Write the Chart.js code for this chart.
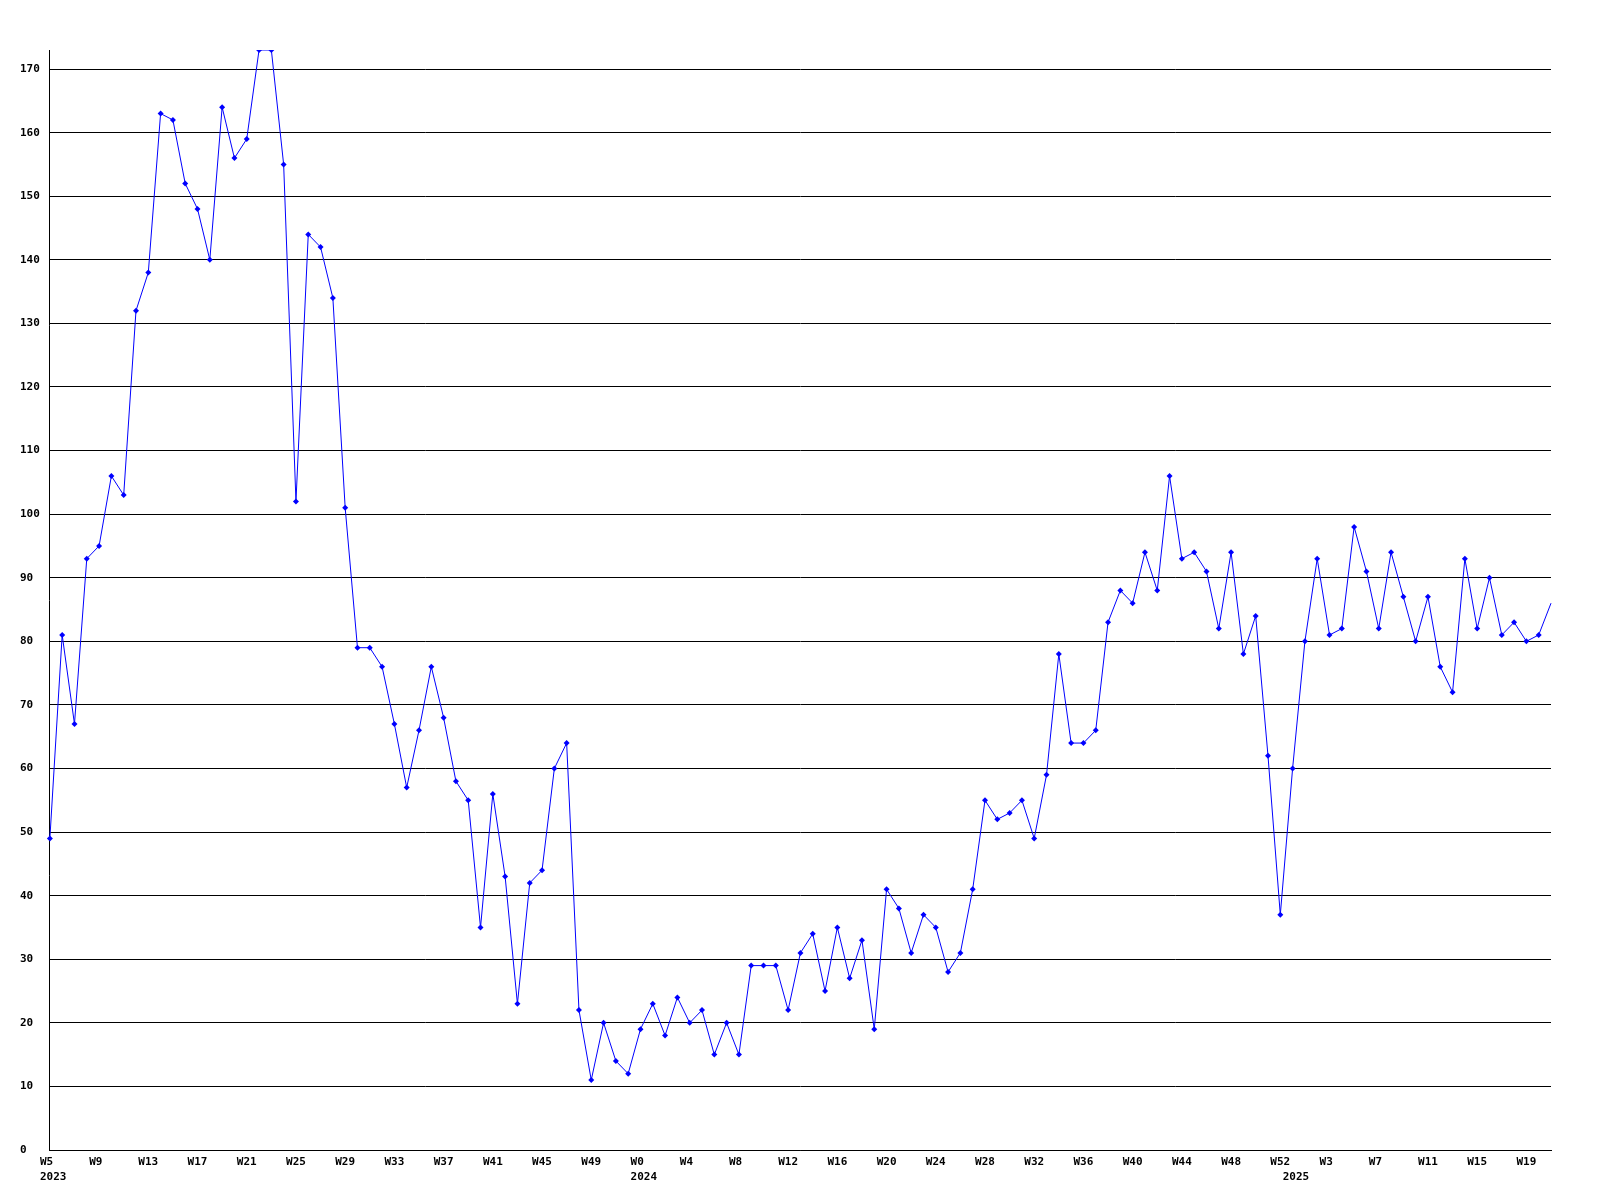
<!DOCTYPE html>
<html>
<head>
<meta charset="utf-8">
<script src="https://cdn.jsdelivr.net/npm/chart.js@4/dist/chart.umd.min.js"></script>
<style>
  html, body { margin: 0; padding: 0; background: #ffffff; }
  #wrap { width: 1600px; height: 1200px; }
</style>
</head>
<body>
<div id="wrap"><canvas id="c" width="1600" height="1200"></canvas></div>
<script>
// Week categories per year
const weeks2023 = ['W5','W6','W7','W8','W9','W10','W11','W12','W13','W14','W15','W16','W17','W18','W19','W20','W21','W22','W23','W24','W25','W26','W27','W28','W29','W30','W31','W32','W33','W34','W35','W36','W37','W38','W39','W40','W41','W42','W43','W44','W45','W46','W47','W48','W49','W50','W51','W52'];
const weeks2024 = ['W0','W1','W2','W3','W4','W5','W6','W7','W8','W9','W10','W11','W12','W13','W14','W15','W16','W17','W18','W19','W20','W21','W22','W23','W24','W25','W26','W27','W28','W29','W30','W31','W32','W33','W34','W35','W36','W37','W38','W39','W40','W41','W42','W43','W44','W45','W46','W47','W48','W49','W50','W51','W52'];
const weeks2025 = ['W0','W1','W2','W3','W4','W5','W6','W7','W8','W9','W10','W11','W12','W13','W14','W15','W16','W17','W18','W19','W20','W21'];
const years = ['2023', '2024', '2025'];

// Series values per year
const values2023 = [49,81,67,93,95,106,103,132,138,163,162,152,148,140,164,156,159,173,173,155,102,144,142,134,101,79,79,76,67,57,66,76,68,58,55,35,56,43,23,42,44,60,64,22,11,20,14,12];
const values2024 = [19,23,18,24,20,22,15,20,15,29,29,29,22,31,34,25,35,27,33,19,41,38,31,37,35,28,31,41,55,52,53,55,49,59,78,64,64,66,83,88,86,94,88,106,93,94,91,82,94,78,84,62,37];
const values2025 = [60,80,93,81,82,98,91,82,94,87,80,87,76,72,93,82,90,81,83,80,81,86];

// Y axis ticks
const yMin = 0;
const yMax = 173;
const yStep = 10;
const labelEvery = 4;

const weekGroups = [weeks2023, weeks2024, weeks2025];
const categories = [].concat(weeks2023, weeks2024, weeks2025);
const values = [].concat(values2023, values2024, values2025);

// year label at first week of each year
const yearAt = {};
let off = 0;
weekGroups.forEach((g, i) => { yearAt[off] = years[i]; off += g.length; });

const FONT = { family: '"DejaVu Sans Mono", "Liberation Mono", monospace', size: 11, weight: 'bold', lineHeight: '15px' };
const lastIdx = values.length - 1;

new Chart(document.getElementById('c'), {
  type: 'line',
  data: {
    labels: categories,
    datasets: [{
      data: values,
      borderColor: '#0000ff',
      backgroundColor: '#0000ff',
      borderWidth: 1,
      tension: 0,
      fill: false,
      pointStyle: 'rectRot',
      pointRadius: (ctx) => ctx.dataIndex === lastIdx ? 0 : 3,
      pointBorderWidth: 0,
      pointBackgroundColor: '#0000ff',
      pointBorderColor: '#0000ff'
    }]
  },
  options: {
    responsive: false,
    animation: false,
    devicePixelRatio: 1,
    layout: { padding: { left: 20, top: 50, right: 49, bottom: 10 } },
    plugins: { legend: { display: false }, tooltip: { enabled: false }, title: { display: false } },
    scales: {
      x: {
        type: 'category',
        offset: false,
        grid: { display: false, drawTicks: false },
        border: { display: true, color: '#000000', width: 1 },
        ticks: {
          autoSkip: false,
          maxRotation: 0,
          minRotation: 0,
          padding: 5,
          color: '#000000',
          font: FONT,
          callback: function (val, i) {
            const lab = categories[i];
            const yr = yearAt[i] ? ' ' + yearAt[i] : null;
            if (i % labelEvery === 0) {
              const w = lab.length < 3 ? lab + ' ' : lab;
              return yr ? [w, yr] : w;
            }
            if (yr) return ['', yr];
            return '';
          }
        }
      },
      y: {
        min: yMin,
        max: yMax,
        grid: { display: true, color: '#000000', lineWidth: 1, drawTicks: false },
        border: { display: true, color: '#000000', width: 1 },
        ticks: {
          stepSize: yStep,
          includeBounds: false,
          crossAlign: 'far',
          padding: 5,
          color: '#000000',
          font: FONT
        }
      }
    }
  }
});
</script>
</body>
</html>
